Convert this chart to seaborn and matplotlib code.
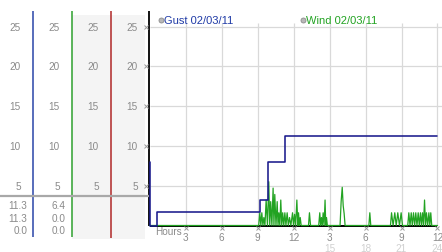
import matplotlib
matplotlib.use("Agg")
import matplotlib.pyplot as plt
import seaborn as sns
import pandas as pd
from matplotlib.patches import Rectangle

# ---------------- data ----------------
gust_hours = [0.0, 0.08, 0.62, 9.20, 9.85, 11.33, 24.0]
gust_vals = [8.0, 0.0, 1.7, 3.2, 8.0, 11.3, 11.3]

wind_hours = [0.0, 9.10,
              9.19, 9.28, 9.36, 9.45, 9.53, 9.62, 9.72, 9.83, 9.94, 10.02,
              10.10, 10.20, 10.30, 10.37, 10.44, 10.54, 10.64, 10.71, 10.78, 10.86,
              10.94, 11.02, 11.10, 11.19, 11.28, 11.37, 11.47, 11.57, 11.67, 11.78,
              11.92, 12.00, 12.09, 12.18, 12.28, 12.36, 12.42, 12.49, 12.56, 12.64,
              13.25, 13.33, 13.42,
              14.10, 14.19, 14.26, 14.33, 14.40, 14.47, 14.55, 14.63, 14.69, 14.75, 14.82,
              15.88, 15.97, 16.06, 16.14, 16.22, 16.30,
              18.28, 18.36, 18.44,
              20.08, 20.17, 20.30, 20.44, 20.56, 20.69, 20.83, 20.97, 21.08,
              21.52, 21.61, 21.71, 21.81, 21.90, 22.00, 22.10, 22.19, 22.29, 22.39,
              22.48, 22.58, 22.66, 22.75, 22.83, 22.92, 23.00, 23.08, 23.18, 23.28,
              23.36, 23.44, 23.52, 24.0]
wind_vals = [0.0, 0.0,
             1.6, 0.0, 1.6, 0.0, 1.0, 0.0, 3.2, 0.0, 5.5, 0.0,
             3.0, 0.0, 4.7, 0.0, 3.9, 0.0, 3.0, 0.0, 1.6, 0.0,
             3.2, 0.0, 1.6, 0.0, 1.6, 0.0, 1.6, 0.0, 1.0, 0.0,
             1.6, 0.0, 1.4, 0.0, 3.2, 0.0, 1.6, 0.0, 1.0, 0.0,
             0.0, 1.6, 0.0,
             0.0, 1.6, 0.0, 1.0, 0.0, 1.6, 0.0, 3.2, 0.0, 1.0, 0.0,
             0.0, 3.0, 4.8, 2.5, 1.5, 0.0,
             0.0, 1.6, 0.0,
             0.0, 1.6, 0.0, 1.6, 0.0, 1.6, 0.0, 1.6, 0.0,
             0.0, 1.6, 0.0, 1.6, 0.0, 1.6, 0.0, 1.6, 0.0, 1.6,
             0.0, 1.6, 0.0, 1.6, 0.0, 3.2, 0.0, 1.6, 0.0, 1.6,
             0.0, 1.6, 0.0, 0.0]

y_ticks = [5, 10, 15, 20, 25]
y_tick_labels = ["5", "10", "15", "20", "25"]
x_ticks = [3, 6, 9, 12, 15, 18, 21, 24]
x_labels_top = ["3", "6", "9", "12", "3", "6", "9", "12"]
x_labels_bottom = ["", "", "", "", "15", "18", "21", "24"]
summary_col1 = ["11.3", "11.3", "0.0"]
summary_col2 = ["6.4", "0.0", "0.0"]
legend_labels = ["Gust 02/03/11", "Wind 02/03/11"]

# ---------------- style ----------------
sns.set_style("white")
plt.rcParams["font.family"] = ["Liberation Sans", "DejaVu Sans"]

W, H = 442, 253
fig = plt.figure(figsize=(W / 100, H / 100), dpi=100)
fig.patch.set_facecolor("white")

# pixel geometry
PX_PER_UNIT = 7.96
ZERO_PX = 226.5
Y_MIN, Y_MAX = -0.2, 26.9
bot_px = ZERO_PX - Y_MIN * PX_PER_UNIT
top_px = ZERO_PX - Y_MAX * PX_PER_UNIT
X0_PX = 149.5
PX_PER_HOUR = 12.0
ax_left_px, ax_right_px = 148, 442

ax = fig.add_axes([ax_left_px / W, (H - bot_px) / H,
                   (ax_right_px - ax_left_px) / W, (bot_px - top_px) / H])
ax.set_xlim((ax_left_px - X0_PX) / PX_PER_HOUR, (ax_right_px - X0_PX) / PX_PER_HOUR)
ax.set_ylim(Y_MIN, Y_MAX)
ax.set_facecolor("white")
for s in ax.spines.values():
    s.set_visible(False)
ax.set_xticks([])
ax.set_yticks([])

grid_c = "#d9d9d9"
ax.hlines(y_ticks, 0, ax.get_xlim()[1], color=grid_c, lw=0.9, zorder=0)
ax.vlines(x_ticks, 0, 25.5, color=grid_c, lw=0.9, zorder=0)

# axes lines
ax.vlines(-0.04, 0, Y_MAX, color="black", lw=1.3, zorder=2, clip_on=False)
ax.hlines(0, 0, 24, color="black", lw=1.4, zorder=2)

gust_df = pd.DataFrame({"hour": gust_hours, "gust": gust_vals})
wind_df = pd.DataFrame({"hour": wind_hours, "wind": wind_vals})

sns.lineplot(data=wind_df, x="hour", y="wind", ax=ax, estimator=None, sort=False,
             color="#22a322", lw=0.9, zorder=3)
sns.lineplot(data=gust_df, x="hour", y="gust", ax=ax, estimator=None, sort=False,
             color="#1a1a8c", lw=1.15, drawstyle="steps-post", zorder=4)
ax.set_xlabel("")
ax.set_ylabel("")

lab_c = "#8a8a8a"
fs = 7.2
# x tick marks and labels
ax.plot(x_ticks, [-0.35] * len(x_ticks), ls="none", marker="x", ms=2.2,
        mew=0.7, color="#9a9a9a", clip_on=False)
for xv, t1, t2 in zip(x_ticks, x_labels_top, x_labels_bottom):
    ax.text(xv, -1.45, t1, ha="center", va="center", fontsize=fs, color=lab_c, clip_on=False)
    if t2:
        ax.text(xv, -2.8, t2, ha="center", va="center", fontsize=fs, color="#d0d0d0", clip_on=False)
ax.text(0.45, -0.68, "Hours", ha="left", va="center", fontsize=fs, color=lab_c, clip_on=False)

# ---------------- left panel ----------------
axl = fig.add_axes([0, (H - bot_px) / H, ax_left_px / W, (bot_px - top_px) / H], sharey=ax)
axl.set_xlim(0, ax_left_px)
axl.axis("off")
y_low = Y_MAX
y_bottom_line = -1.45
axl.add_patch(Rectangle((72, -1.75), 73, 26.5 + 1.75, facecolor="#f4f4f4",
                        edgecolor="none", zorder=0, clip_on=False))
axl.vlines(33, y_bottom_line, Y_MAX, color="#2a45a8", lw=1.1, clip_on=False)
axl.vlines(72, y_bottom_line, Y_MAX, color="#2ea02e", lw=1.1, clip_on=False)
axl.vlines(111, y_bottom_line - 0.1, Y_MAX, color="#b02828", lw=1.1, clip_on=False)
axl.hlines(3.75, 0, ax_left_px + 1, color="#a8a8a8", lw=1.6, clip_on=False)

col_right = [21, 60, 99, 138]
for yv, lab in zip(y_ticks, y_tick_labels):
    for xr in col_right:
        axl.text(xr, yv, lab, ha="right", va="center", fontsize=fs, color=lab_c)
axl.plot([145.5] * len(y_ticks), y_ticks, ls="none", marker="x", ms=2.2, mew=0.7,
         color="#9a9a9a", clip_on=False)

rows_y = [2.6, 0.95, -0.52]
for yv, a, b in zip(rows_y, summary_col1, summary_col2):
    axl.text(27.5, yv, a, ha="right", va="center", fontsize=fs, color=lab_c, clip_on=False)
    axl.text(66, yv, b, ha="right", va="center", fontsize=fs, color=lab_c, clip_on=False)

# ---------------- legend (overlay in pixels) ----------------
ov = fig.add_axes([0, 0, 1, 1], facecolor="none")
ov.set_xlim(0, W)
ov.set_ylim(H, 0)
ov.axis("off")
leg_items = [(160.5, legend_labels[0], "#1f3aa6"), (302.5, legend_labels[1], "#22a322")]
for xm, lab, col in leg_items:
    ov.plot([xm], [20.5], marker="o", ms=3.6, mfc="#b8b8b8", mec="#8c8c8c", mew=0.6)
    ov.text(xm + 4, 20.5, lab, ha="left", va="center", fontsize=8, color=col)

fig.savefig("out.png", dpi=100)
